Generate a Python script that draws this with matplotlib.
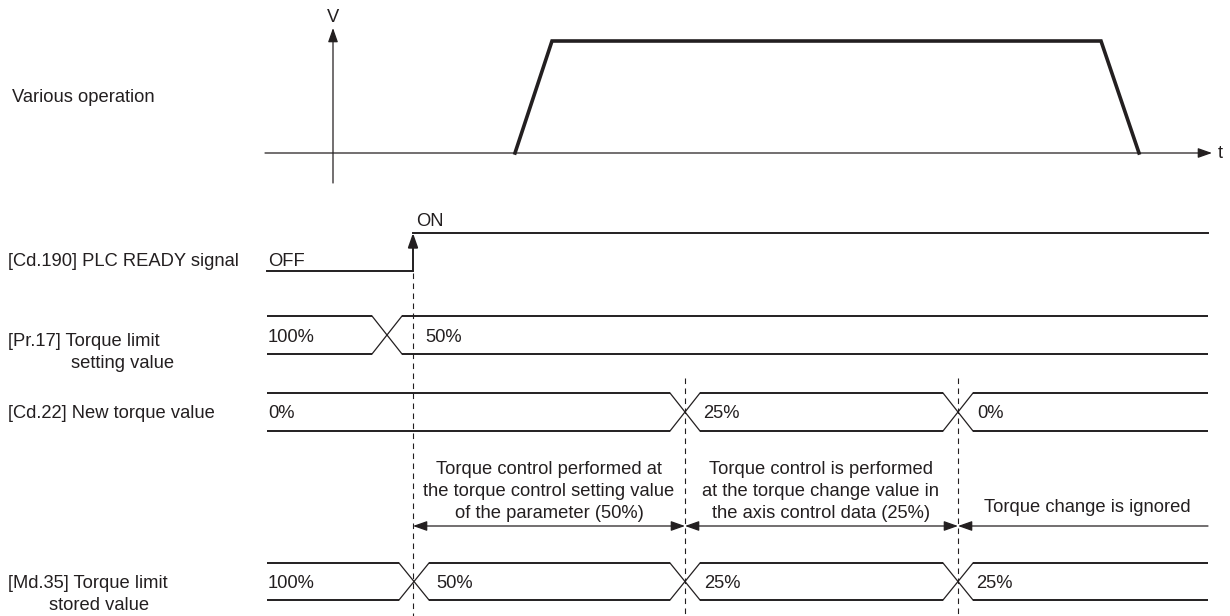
import matplotlib.pyplot as plt
"""
Timing chart: torque limit value change after PLC READY goes ON.
"""

INK = '#231f20'
FONT = 'Liberation Sans'
FS = 13.2

# time positions (chart units)
T_START = 267
T_END = 1208
T_READY = 413
MARKERS = [413, 685, 958]

# "Various operation" speed profile
speed_t = [515, 552, 1101, 1139]
speed_v = [0, 1, 1, 0]

# bus signals: change times and the values shown between them
pr17_changes = [387]
pr17_values = ['100%', '50%']
cd22_changes = [685, 958]
cd22_values = ['0%', '25%', '0%']
md35_changes = [414, 685, 958]
md35_values = ['100%', '50%', '25%', '25%']

# spans explained under the new torque value row
span_edges = [413, 685, 958, 1208]
span_texts = [['Torque control performed at',
               'the torque control setting value',
               'of the parameter (50%)'],
              ['Torque control is performed',
               'at the torque change value in',
               'the axis control data (25%)'],
              ['Torque change is ignored']]


def txt(ax, x, y, s, ha='left'):
    ax.text(x, y, s, ha=ha, va='center', fontsize=FS, family=FONT, color=INK)


def arrow(ax, x0, y0, x1, y1, style='-|>', lw=0.9):
    ax.annotate('', xy=(x1, y1), xytext=(x0, y0),
                arrowprops=dict(arrowstyle=style + ',head_length=0.85,head_width=0.3',
                                color=INK, lw=lw, shrinkA=0, shrinkB=0,
                                mutation_scale=10))


def draw_bus(ax, y_top, y_bot, changes, values, text_x, hw=15):
    """
    Draw a bus signal with X shaped transitions.
    """
    xs = [T_START] + changes + [T_END]
    for i in range(len(xs) - 1):
        x0 = xs[i] + (hw if i > 0 else 0)
        x1 = xs[i + 1] - (hw if i < len(xs) - 2 else 0)
        ax.plot([x0, x1], [y_top, y_top], color=INK, lw=1.4, solid_capstyle='butt')
        ax.plot([x0, x1], [y_bot, y_bot], color=INK, lw=1.4, solid_capstyle='butt')
    for c in changes:
        ax.plot([c - hw, c + hw], [y_top, y_bot], color=INK, lw=0.9)
        ax.plot([c - hw, c + hw], [y_bot, y_top], color=INK, lw=0.9)
    ym = (y_top + y_bot) / 2 + 2
    for x, v in zip(text_x, values):
        txt(ax, x, ym, v)


def plot_chart():
    fig = plt.figure(figsize=(12.3, 6.16), dpi=100)
    ax = fig.add_axes([0, 0, 1, 1])
    ax.set_xlim(0, 1230)
    ax.set_ylim(616, 0)
    ax.axis('off')

    # speed graph
    y0, y1 = 153, 41
    arrow(ax, 333, 183, 333, 28)
    arrow(ax, 265, y0, 1212, y0)
    txt(ax, 333, 17, 'V', ha='center')
    txt(ax, 1218, y0 + 1, 't')
    ax.plot(speed_t, [y0 + (y1 - y0) * v for v in speed_v], color=INK, lw=2.6,
            solid_joinstyle='miter')

    # PLC READY
    ax.plot([T_START, T_READY], [271, 271], color=INK, lw=1.4)
    arrow(ax, T_READY, 271, T_READY, 233, lw=1.4)
    ax.plot([T_READY, T_END], [233, 233], color=INK, lw=1.4)
    txt(ax, 268, 262, 'OFF')
    txt(ax, 416, 221, 'ON')

    draw_bus(ax, 316, 354, pr17_changes, pr17_values, [268, 425])
    draw_bus(ax, 393, 431, cd22_changes, cd22_values, [268, 703, 977])
    draw_bus(ax, 563, 600, md35_changes, md35_values, [268, 436, 704, 976])

    # dashed markers
    ax.plot([MARKERS[0]] * 2, [273, 616], color=INK, lw=0.8, ls=(0, (5, 4)))
    for m in MARKERS[1:]:
        ax.plot([m] * 2, [378, 616], color=INK, lw=0.8, ls=(0, (5, 4)))

    # span arrows and their notes
    y_arr = 526
    arrow(ax, span_edges[0], y_arr, span_edges[1], y_arr, style='<|-|>')
    arrow(ax, span_edges[1], y_arr, span_edges[2], y_arr, style='<|-|>')
    arrow(ax, span_edges[3], y_arr, span_edges[2], y_arr)
    for lines, cx in zip(span_texts[:2], [549, 821]):
        for k, s in enumerate(lines):
            txt(ax, cx, 470 + 22 * k, s, ha='center')
    txt(ax, 1087, 507, span_texts[2][0], ha='center')

    # row labels
    txt(ax, 12, 98, 'Various operation')
    txt(ax, 8, 261, '[Cd.190] PLC READY signal')
    txt(ax, 8, 341, '[Pr.17] Torque limit')
    txt(ax, 71, 363, 'setting value')
    txt(ax, 8, 414, '[Cd.22] New torque value')
    txt(ax, 8, 584, '[Md.35] Torque limit')
    txt(ax, 49, 605, 'stored value')

    fig.savefig('out.png', dpi=100)


if __name__ == "__main__":
    plot_chart()
